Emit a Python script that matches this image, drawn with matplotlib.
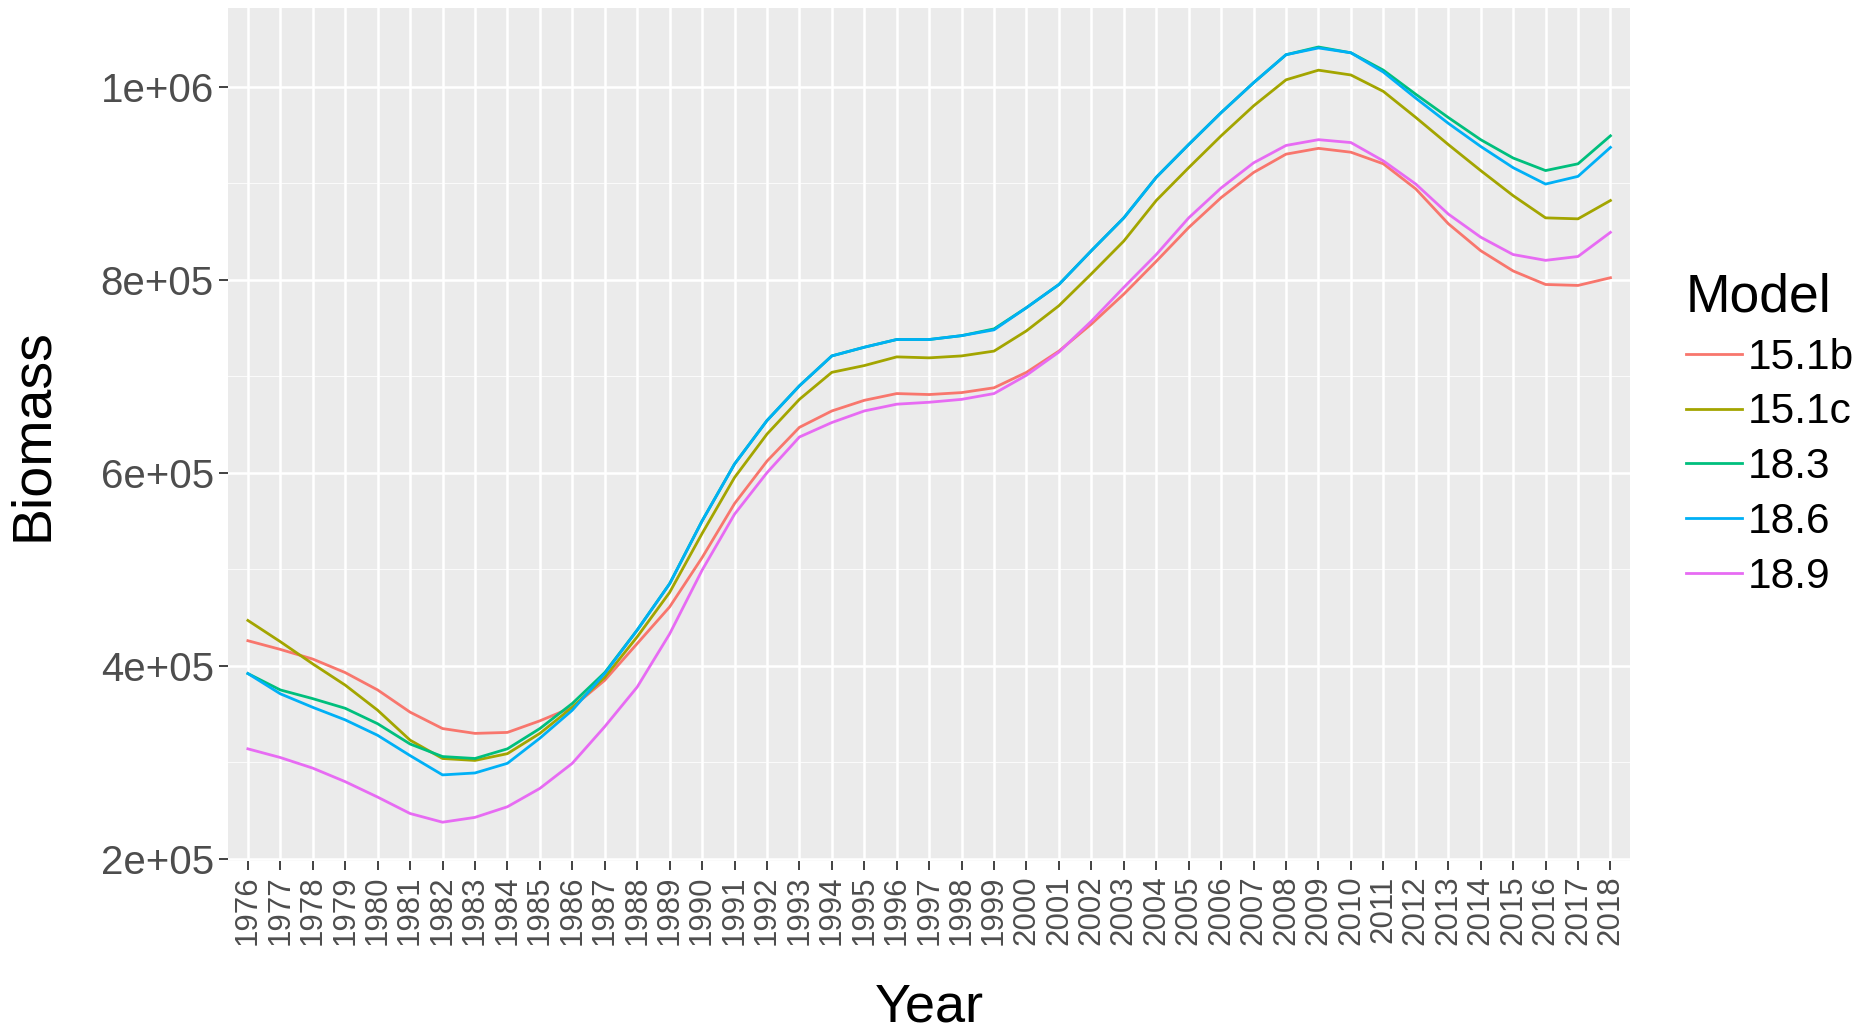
import matplotlib
matplotlib.use("Agg")
import matplotlib.pyplot as plt
from matplotlib.ticker import MultipleLocator

# ── Data (biomass) ─────────────────────────────────────────────────────────────
years = [str(y) for y in range(1976, 2019)]

b_151b = [426, 417, 407, 393, 375, 352, 335, 330, 331, 343, 357, 385, 423, 461,
          512, 568, 612, 647, 664, 675, 682, 681, 683, 688, 704, 726, 754, 785,
          819, 854, 885, 911, 930, 936, 932, 920, 894, 858, 830, 809, 795, 794, 802]
b_151c = [447, 425, 402, 380, 354, 323, 304, 302, 309, 330, 357, 388, 430, 476,
          537, 595, 640, 676, 704, 711, 720, 719, 721, 726, 747, 773, 806, 840,
          882, 916, 949, 980, 1007, 1017, 1012, 995, 968, 940, 913, 887, 864, 863, 882]
b_183 = [392, 375, 366, 356, 340, 319, 306, 304, 314, 335, 361, 393, 437, 485,
         550, 609, 654, 690, 721, 730, 738, 738, 742, 749, 771, 795, 830, 864,
         906, 940, 973, 1004, 1033, 1041, 1035, 1017, 992, 968, 945, 926, 913, 920, 949]
b_186 = [392, 371, 357, 344, 328, 307, 287, 289, 299, 325, 354, 392, 437, 485,
         550, 609, 654, 690, 721, 730, 738, 738, 742, 748, 771, 795, 830, 864,
         906, 940, 973, 1004, 1033, 1040, 1035, 1015, 988, 962, 938, 916, 899, 907, 937]
b_189 = [314, 305, 294, 280, 264, 247, 238, 243, 254, 273, 299, 337, 378, 433,
         499, 557, 600, 637, 652, 664, 671, 673, 676, 682, 701, 725, 757, 792,
         826, 864, 895, 921, 939, 945, 942, 923, 899, 868, 844, 826, 820, 824, 849]

models = ["15.1b", "15.1c", "18.3", "18.6", "18.9"]
series = [b_151b, b_151c, b_183, b_186, b_189]
colors = ["#F8766D", "#A3A500", "#00BF7D", "#00B0F6", "#E76BF3"]

y_ticks = [2e5, 4e5, 6e5, 8e5, 1e6]
y_tick_labels = ["2e+05", "4e+05", "6e+05", "8e+05", "1e+06"]

# ── Figure ────────────────────────────────────────────────────────────────────
plt.rcParams["font.family"] = ["Liberation Sans", "DejaVu Sans"]

fig = plt.figure(figsize=(18.6, 10.29), dpi=100)
ax = fig.add_axes([0.1228, 0.1633, 0.7535, 0.8287])
ax.set_facecolor("#EBEBEB")
for s in ax.spines.values():
    s.set_visible(False)

for name, vals, col in zip(models, series, colors):
    ax.plot(years, [v * 1000 for v in vals], color=col, lw=2.0, label=name,
            solid_joinstyle="round", zorder=3)

# ggplot-like limits: discrete x (+0.6), continuous y (5% expansion)
allv = [v * 1000 for s in series for v in s]
lo, hi = min(allv), max(allv)
pad = 0.05 * (hi - lo)
ax.set_ylim(lo - pad, hi + pad)
ax.set_xlim(-0.6, len(years) - 0.4)

ax.set_yticks(y_ticks)
ax.set_yticklabels(y_tick_labels)
ax.yaxis.set_minor_locator(MultipleLocator(1e5))

ax.grid(which="major", color="white", lw=1.8, zorder=0)
ax.yaxis.grid(True, which="minor", color="white", lw=0.7, alpha=0.8, zorder=0)
ax.set_axisbelow(True)

ax.tick_params(axis="both", which="major", color="#333333", width=1.3,
               length=6.5, labelcolor="#4D4D4D")
ax.tick_params(axis="y", which="major", labelsize=29, pad=4)
ax.tick_params(axis="x", which="major", labelsize=22.5, pad=4, labelrotation=90)
ax.tick_params(which="minor", length=0)

ax.set_xlabel("Year", fontsize=39, color="black")
ax.set_ylabel("Biomass", fontsize=40, color="black")
ax.xaxis.set_label_coords(0.5, -0.142)
ax.yaxis.set_label_coords(-0.121, 0.5)

leg = ax.legend(title="Model", loc="upper left",
                bbox_to_anchor=(0.9065, 0.735), bbox_transform=fig.transFigure,
                frameon=False, fontsize=30.5, title_fontsize=38.5,
                handlelength=1.33, handletextpad=0.12, labelspacing=0.35,
                borderpad=0, borderaxespad=0, alignment="left")
for line in leg.get_lines():
    line.set_linewidth(2.0)

fig.savefig("out.png", dpi=100, facecolor="white")
plt.close(fig)
